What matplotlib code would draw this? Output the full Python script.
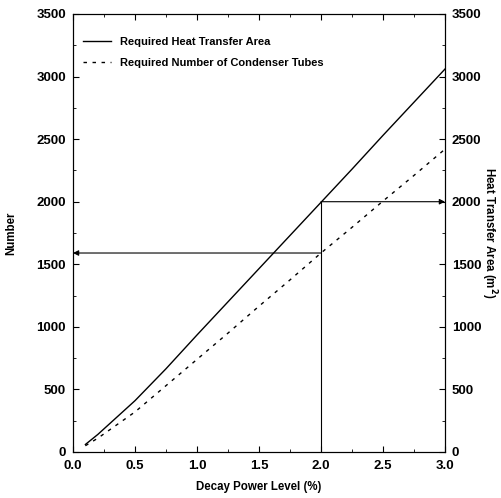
import matplotlib
matplotlib.use("Agg")
from matplotlib import pyplot as plt
from matplotlib.ticker import MultipleLocator

# data
power = [0.1, 0.2, 0.3, 0.4, 0.5, 0.75, 1.0, 1.25, 1.5, 1.75, 2.0, 2.25, 2.5, 2.75, 3.0]
area = [60, 140, 230, 320, 410, 665, 935, 1200, 1465, 1730, 1995, 2260, 2530, 2795, 3060]
tubes = [50, 110, 180, 250, 320, 530, 740, 950, 1165, 1375, 1590, 1795, 2005, 2210, 2420]

design_power = 2.0
design_area = 2000
design_tubes = 1590

plt.rcParams["font.family"] = ["Liberation Sans", "DejaVu Sans"]
plt.rcParams["font.weight"] = "bold"

fig = plt.figure(figsize=(5.01, 4.98), dpi=100)
ax = fig.add_axes([0.1457, 0.0924, 0.7425, 0.8795])

ax.plot(power, area, c="black", linewidth=1, label="Required Heat Transfer Area")
ax.plot(power, tubes, c="black", linewidth=1, linestyle=(0, (2.5, 4)),
        label="Required Number of Condenser Tubes")

# guide lines with arrows
ax.plot([design_power, design_power], [0, design_area], c="black", linewidth=0.8)
ax.annotate("", xy=(3.0, design_area), xytext=(design_power, design_area),
            arrowprops=dict(arrowstyle="-|>", color="black", lw=0.8, shrinkA=0, shrinkB=0,
                            mutation_scale=8))
ax.annotate("", xy=(0.0, design_tubes), xytext=(design_power, design_tubes),
            arrowprops=dict(arrowstyle="-|>", color="black", lw=0.8, shrinkA=0, shrinkB=0,
                            mutation_scale=8))

ax.set_xlim(0, 3.0)
ax.set_ylim(0, 3500)
ax.xaxis.set_major_locator(MultipleLocator(0.5))
ax.xaxis.set_minor_locator(MultipleLocator(0.25))
ax.yaxis.set_major_locator(MultipleLocator(500))
ax.yaxis.set_minor_locator(MultipleLocator(250))
ax.tick_params(axis="both", which="both", direction="in", top=True, labelsize=9.5)
ax.tick_params(which="major", length=4)
ax.tick_params(which="minor", length=2)
ax.tick_params(axis="x", pad=6)
ax.tick_params(axis="y", pad=5)
ax.set_xticklabels([f"{v:.1f}" for v in ax.get_xticks()])

ax.set_xlabel("Decay Power Level (%)", fontsize=8.3, fontweight="bold", labelpad=6)
ax.set_ylabel("Number", fontsize=8.3, fontweight="bold", labelpad=14)

ax2 = ax.twinx()
ax2.set_ylim(0, 3500)
ax2.yaxis.set_major_locator(MultipleLocator(500))
ax2.yaxis.set_minor_locator(MultipleLocator(250))
ax2.tick_params(axis="y", which="both", direction="in", labelsize=9.5, pad=5)
ax2.tick_params(which="major", length=4)
ax2.tick_params(which="minor", length=2)
ax2.set_ylabel("Heat Transfer Area (m$^2$)", fontsize=8.3, fontweight="bold",
               rotation=270, labelpad=12)

ax.legend(loc="upper left", frameon=False, fontsize=8, handlelength=2.5,
          bbox_to_anchor=(0.0, 0.97), labelspacing=1.0)

plt.savefig("out.png", dpi=100)
